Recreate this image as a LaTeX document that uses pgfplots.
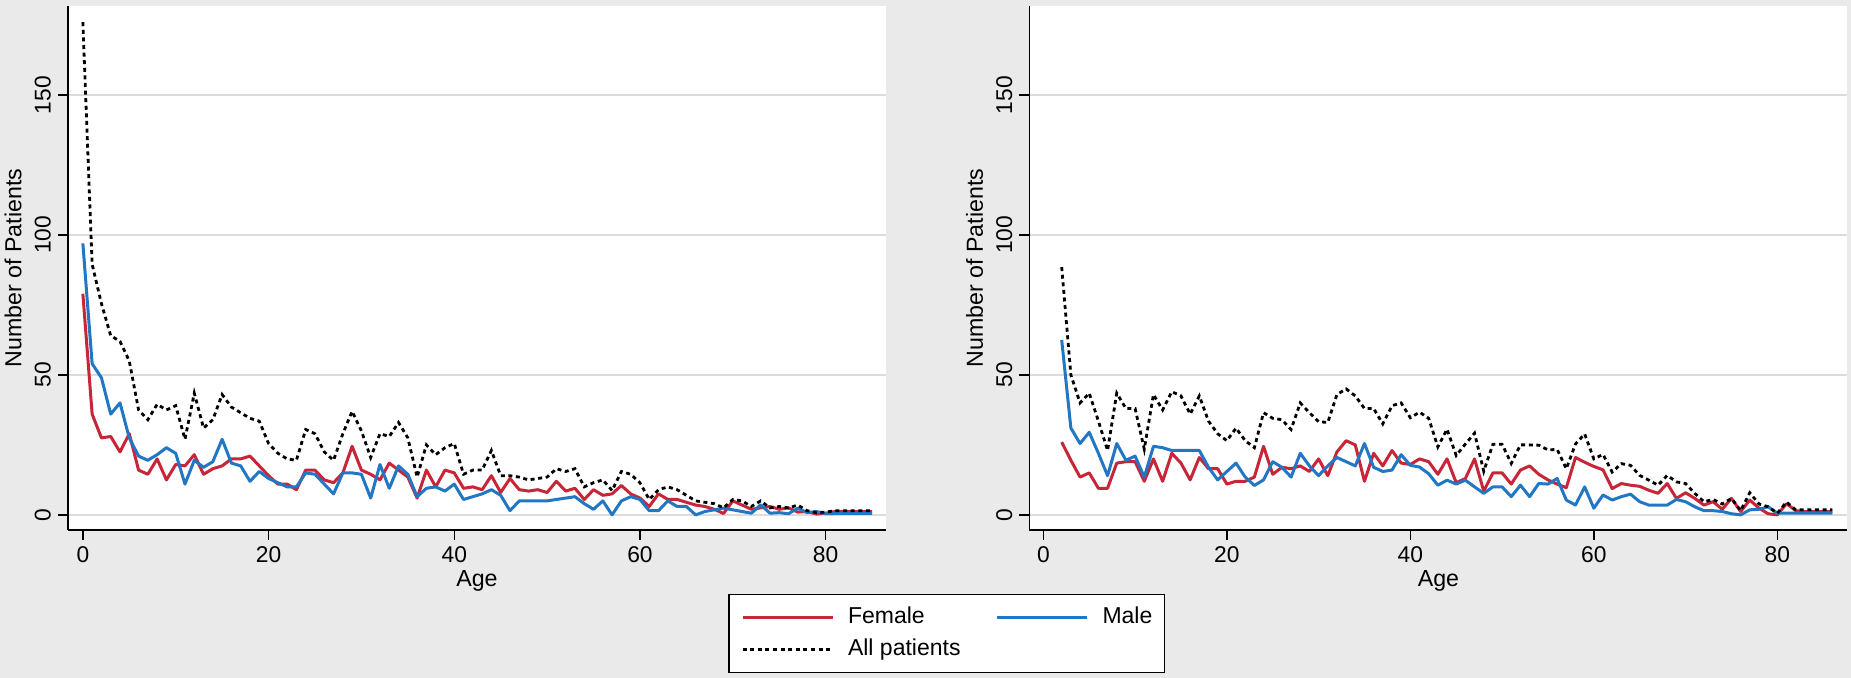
\documentclass[border=0pt]{standalone}
\usepackage{fontspec}
\setmainfont{Liberation Sans}
\usepackage{pgfplots}
\usepackage{pgfplotstable}
\pgfplotsset{compat=1.18}

\definecolor{bggray}{RGB}{234,234,234}
\definecolor{gridgray}{RGB}{220,220,220}
\definecolor{fred}{RGB}{200,38,56}
\definecolor{mblue}{RGB}{34,119,196}

% left panel: age female male all
\pgfplotstableread{
age female male all
0 79 97 176
1 36 54 89.5
2 27.5 49 75.5
3 28 36 64
4 22.5 40 62
5 29 27.5 55
6 16 21 37.5
7 14.5 19.5 34
8 20 21.5 39.5
9 12.5 24 37.5
10 18 22 39
11 17.5 11 27
12 21.5 19.5 43.5
13 14.5 17 31
14 16.5 19 34
15 17.5 27 43
16 20 18.5 38.5
17 20 17.5 36.5
18 21 12 34.5
19 17.5 15.5 33.5
20 14 13 25.5
21 11 11.5 22
22 11 10 20
23 9 10 19.5
24 16 15 30.5
25 16 14.5 29
26 12.5 11 22.5
27 11.5 7.5 19.5
28 15 15 29
29 24.5 15 37
30 16 14.5 30
31 14.5 6 20.5
32 12.5 18 29
33 18.5 9.5 28
34 16 17.5 33
35 13.5 14.5 27.5
36 6 6.5 13.5
37 16 9.5 25
38 10 10 21.5
39 16 8.5 24
40 15 11 25.5
41 9.5 5.5 14.5
42 10 6.5 16
43 9 7.5 16
44 14 9 23
45 8 7 14
46 13 1.5 14
47 9 5 13.5
48 8.5 5 12.5
49 9 5 13
50 8 5 13.5
51 12 5.5 16.5
52 8.5 6 15.5
53 9.5 6.5 16.5
54 5.5 4 10
55 9 2 11.5
56 7 5 12.5
57 7.5 0 8.7
58 10.5 5 15.5
59 7.5 6.5 14.5
60 6 5.5 11.5
61 3 1.5 5.5
62 7.5 1.5 9
63 5.5 5 10
64 5.5 3 9
65 4.5 3 7
66 3.5 0 5
67 3 1.2 4.5
68 2 1.8 4
69 0.5 2.4 2.5
70 5 1.8 5.5
71 3.5 1.2 5
72 2 0.6 3
73 2.5 3.6 5
74 3 0.6 2.5
75 2 0.8 3
76 2.5 0.4 2.5
77 1 2.4 3.5
78 1.2 0.8 1.5
79 0.3 1.2 0.8
80 0.6 0.4 1
81 1.2 0.5 1.5
82 1.2 0.5 1.5
83 1.2 0.5 1.5
84 1.2 0.5 1.5
85 1.2 0.5 1.5
}\lefttab

% right panel: age female male all
\pgfplotstableread{
age female male all
2 26 62.5 88.5
3 19.5 31 50
4 13.5 25.5 40
5 15 29.5 43.5
6 9.5 22 33.5
7 9.5 14 23
8 18.5 25.5 43.5
9 19 19.5 38
10 19 21 38
11 12 13.5 23.5
12 20 24.5 43
13 12 24 37.5
14 22 23 44
15 18.5 23 42.5
16 12.5 23 36
17 20.5 23 42.5
18 16.5 17 33.5
19 16.5 12.5 29
20 11 15.5 26.5
21 12 18.5 31
22 12 13.5 26.5
23 13.5 10.5 24
24 24.5 12.5 36.5
25 14.5 19 34.5
26 17 17 34
27 16.5 13.5 30.5
28 17.5 22 40
29 15.5 17.5 36.5
30 20 14 33.3
31 14 17.5 33
32 22.5 20.5 43
33 26.5 19 45
34 25 17.5 42.5
35 12 25.5 38
36 22 17 38
37 17.5 15.5 32.5
38 23 16 39
39 18.5 21.5 40
40 18 17.7 34.7
41 20 17.1 36.7
42 19 14.7 34.5
43 14.5 10.6 24.3
44 20 12.4 30.6
45 11.5 11 21.2
46 13 12.4 25.3
47 20 10 29.2
48 8.5 7.7 15.6
49 15 10 25.2
50 15 10 25.2
51 11 6.5 18.4
52 16 10.6 25
53 17.5 6.5 25
54 14.5 11.2 24.9
55 12.5 11 23.2
56 11 13 23.4
57 9.7 5.3 16.5
58 20.5 3.5 25.3
59 18.8 10 28.9
60 17.3 2.4 20
61 16.1 7.1 21.6
62 9.4 5.3 15.3
63 11.2 6.5 18.3
64 10.6 7.4 17.7
65 10.2 4.7 14.1
66 8.8 3.5 12.4
67 7.7 3.5 10.6
68 11.2 3.5 14.1
69 5.9 5.5 11.8
70 7.9 4.7 11.2
71 5.9 2.9 7.7
72 3.5 1.5 4.7
73 4.7 1.5 5.5
74 2 1.2 3.9
75 5.9 0.4 5.9
76 1.2 0 1.5
77 5.3 1.8 7.9
78 2.4 2 3.9
79 0.4 2.9 2.9
80 0 0.6 0.6
81 4 0.6 4.6
82 1.5 0.6 1.8
83 1.2 0.6 1.8
84 1.2 0.6 1.8
85 1.2 0.6 1.8
86 1.2 0.6 1.8
}\righttab

\pgfplotsset{
  stata/.style={
    scale only axis, width=409pt, height=262pt,
    ymin=-5.4, ymax=181.8,
    xtick={0,20,40,60,80}, ytick={0,50,100,150},
    axis x line*=bottom, axis y line*=left,
    x axis line style={-}, y axis line style={-},
    axis line style={black, line width=0.7pt},
    tick align=outside, tick pos=left, major tick length=5pt,
    major tick style={black, line width=0.7pt},
    ymajorgrids, grid style={gridgray, line width=0.8pt},
    axis background/.style={fill=white},
    /pgf/number format/assume math mode=true,
    tick label style={font=\fontsize{11.4}{13}\selectfont},
    yticklabel style={rotate=90, anchor=south},
    label style={font=\fontsize{11.6}{13}\selectfont},
    xlabel={Age}, ylabel={Number of Patients},
    xlabel style={at={(axis description cs:0.5,-0.097)}, anchor=center},
    ylabel style={at={(axis description cs:-0.067,0.5)}, anchor=center},
  },
  fline/.style={fred, line width=1.5pt, line join=round},
  mline/.style={mblue, line width=1.5pt, line join=round},
  aline/.style={black, line width=1.4pt, dash pattern=on 2pt off 1.8pt},
}

\begin{document}
\begin{tikzpicture}
\fill[bggray] (0,0) rectangle (925.5pt,339pt);
\useasboundingbox (0,0) rectangle (925.5pt,339pt);

\begin{axis}[stata, at={(34pt,74pt)}, anchor=south west,
  xmin=-1.6, xmax=86.5,
  legend columns=2,
  legend cell align=left,
  legend image code/.code={\draw[#1] (0pt,0pt) -- (45pt,0pt);},
  legend style={at={(axis description cs:1.0742,-0.1977)}, anchor=center,
    draw=black, line width=0.6pt, fill=white,
    font=\fontsize{11.5}{13}\selectfont,
    inner xsep=6pt, inner ysep=6pt, row sep=4.85pt,
    nodes={inner sep=0pt, text height=8.5pt, text depth=2.5pt},
    /tikz/every odd column/.append style={column sep=7pt},
    /tikz/every even column/.append style={column sep=17.5pt}},
]
\addplot[fline] table[x=age, y=female] {\lefttab};
\addlegendentry{Female}
\addplot[mline] table[x=age, y=male] {\lefttab};
\addlegendentry{Male}
\addplot[aline] table[x=age, y=all] {\lefttab};
\addlegendentry{All patients}
\end{axis}

\begin{axis}[stata, at={(514.7pt,74pt)}, anchor=south west,
  xmin=-1.52, xmax=87.64]
\addplot[fline] table[x=age, y=female] {\righttab};
\addplot[mline] table[x=age, y=male] {\righttab};
\addplot[aline] table[x=age, y=all] {\righttab};
\end{axis}
\end{tikzpicture}
\end{document}
